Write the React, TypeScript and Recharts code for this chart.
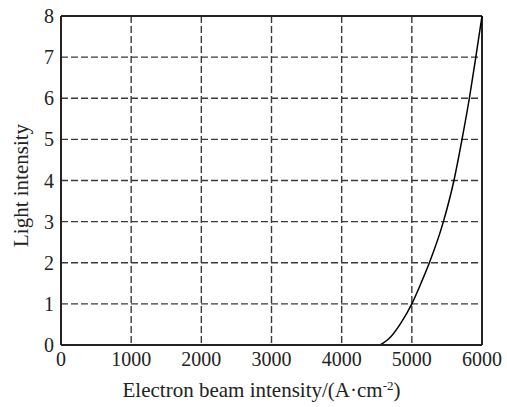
import React from 'react';
import {
  LineChart,
  Line,
  XAxis,
  YAxis,
  CartesianGrid,
  ReferenceLine
} from 'recharts';

// beam intensity (A/cm^2) vs light intensity
const beamIntensity = [4550, 4700, 4850, 5000, 5130, 5250, 5450, 5600, 5715, 5820, 5912, 6000];
const lightIntensity = [0, 0.2, 0.55, 1, 1.5, 2, 3, 4, 5, 6, 7, 8];

const xTicks = [0, 1000, 2000, 3000, 4000, 5000, 6000];
const yTicks = [0, 1, 2, 3, 4, 5, 6, 7, 8];

const FONT = '"Liberation Serif", "Times New Roman", serif';
const INK = '#222';
const GRID = '#3a3a3a';

const XLabel = (props: any) => {
  const vb = props.viewBox || { x: 61, y: 345, width: 421, height: 62 };
  const cx = vb.x + vb.width / 2 - 10;
  return (
    <text x={cx} y={vb.y + 52} textAnchor="middle" fontFamily={FONT} fontSize={21} fill={INK}>
      Electron beam intensity/(A·cm
      <tspan dy={-7} fontSize={13}>-2</tspan>
      <tspan dy={7}>)</tspan>
    </text>
  );
};

const YLabel = (props: any) => {
  const vb = props.viewBox || { x: 0, y: 16, width: 61, height: 329 };
  const cx = 21;
  const cy = vb.y + vb.height / 2 + 5;
  return (
    <text
      x={cx}
      y={cy}
      textAnchor="middle"
      dominantBaseline="central"
      transform={`rotate(-90, ${cx}, ${cy})`}
      fontFamily={FONT}
      fontSize={21}
      fill={INK}
    >
      Light intensity
    </text>
  );
};

const App: React.FC = () => {
  const data = beamIntensity.map((x, i) => ({ x, y: lightIntensity[i] }));

  return (
    <div style={{ position: 'absolute', left: 0, top: 0, width: 507, height: 407, background: '#fff' }}>
      <LineChart width={507} height={407} data={data} margin={{ top: 16, right: 25, left: 0, bottom: 0 }}>
        <CartesianGrid stroke={GRID} strokeWidth={1.4} strokeDasharray="7 3" />
        <XAxis
          dataKey="x"
          type="number"
          domain={[0, 6000]}
          ticks={xTicks}
          interval={0}
          height={62}
          tickSize={0}
          tickMargin={7}
          axisLine={{ stroke: INK, strokeWidth: 2 }}
          tick={{ fontSize: 20, fontFamily: FONT, fill: INK }}
          label={<XLabel />}
        />
        <YAxis
          type="number"
          domain={[0, 8]}
          ticks={yTicks}
          interval={0}
          width={61}
          tickSize={0}
          tickMargin={7}
          axisLine={{ stroke: INK, strokeWidth: 2 }}
          tick={{ fontSize: 20, fontFamily: FONT, fill: INK }}
          label={<YLabel />}
        />
        <ReferenceLine y={8} stroke={INK} strokeWidth={2} />
        <ReferenceLine x={6000} stroke={INK} strokeWidth={2} />
        <Line
          type="monotone"
          dataKey="y"
          stroke="#000"
          strokeWidth={1.5}
          dot={false}
          isAnimationActive={false}
        />
      </LineChart>
    </div>
  );
};

export default App;
